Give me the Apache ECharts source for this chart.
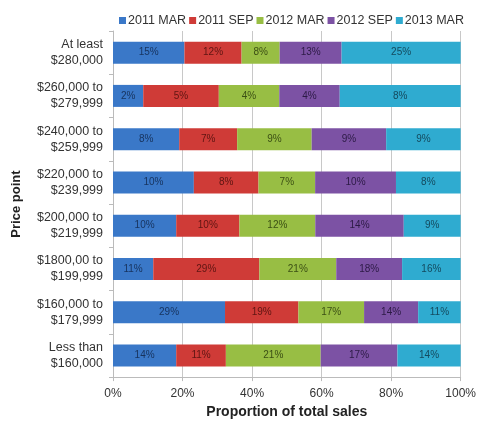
<!DOCTYPE html>
<html><head><meta charset="utf-8">
<script src="https://cdn.jsdelivr.net/npm/echarts@6/dist/echarts.min.js"></script>
<style>html,body{margin:0;padding:0;background:#fff}#c{width:479px;height:424px}</style>
</head><body><div id="c"></div>
<script>
var categories = ["At least\n$280,000","$260,000 to\n$279,999","$240,000 to\n$259,999","$220,000 to\n$239,999","$200,000 to\n$219,999","$1800,00 to\n$199,999","$160,000 to\n$179,999","Less than\n$160,000"];
var seriesNames = ["2011 MAR","2011 SEP","2012 MAR","2012 SEP","2013 MAR"];
var mar2011 = [15,2,8,10,10,11,29,14];
var sep2011 = [12,5,7,8,10,29,19,11];
var mar2012 = [8,4,9,7,12,21,17,21];
var sep2012 = [13,4,9,10,14,18,14,17];
var mar2013 = [25,8,9,8,9,16,11,14];
var xTicks = ["0%","20%","40%","60%","80%","100%"];

var raw = [mar2011, sep2011, mar2012, sep2012, mar2013];
var colors = ["#3a78c8","#cf3b37","#98be44","#7c52a4","#2fabd0"];
var labelColors = ["#17335e","#5e1512","#3b4f14","#2c1a45","#144a5e"];
var totals = categories.map(function(_, i){ return raw.reduce(function(s, a){ return s + a[i]; }, 0); });
var font = "Liberation Sans, Arial, sans-serif";
var series = raw.map(function(arr, k){
  return {
    name: seriesNames[k], type: 'bar', stack: 'all', barWidth: 22,
    itemStyle: {color: colors[k]},
    label: {show: true, position: 'inside', fontFamily: font, fontSize: 10, color: labelColors[k],
      formatter: function(p){ return arr[p.dataIndex] + '%'; }},
    data: arr.map(function(v, i){ return v / totals[i] * 100; })
  };
});
var chart = echarts.init(document.getElementById('c'));
chart.setOption({
  animation: false,
  textStyle: {fontFamily: font},
  legend: {top: 9, left: 114, itemWidth: 7, itemHeight: 7, itemGap: 3, icon: 'rect',
    textStyle: {fontFamily: font, fontSize: 12.5, color: '#333', padding: [0,0,0,-3]}, data: seriesNames},
  grid: {left: 113, right: 16, top: 31, bottom: 39},
  xAxis: {type: 'value', min: 0, max: 100, interval: 20,
    axisLabel: {fontFamily: font, fontSize: 12, color: '#333', margin: 11,
      formatter: function(v){ return xTicks[Math.round(v/20)]; }},
    axisLine: {show: true, lineStyle: {color: '#bbb'}},
    axisTick: {show: true, length: 4, lineStyle: {color: '#bbb'}},
    splitLine: {show: true, lineStyle: {color: '#c8c8c8'}},
    name: 'Proportion of total sales', nameLocation: 'middle', nameGap: 27,
    nameTextStyle: {fontFamily: font, fontSize: 14, fontWeight: 'bold', color: '#222'}},
  yAxis: {type: 'category', data: categories, inverse: true,
    axisLabel: {fontFamily: font, fontSize: 12.5, color: '#333', lineHeight: 16, margin: 10, align: 'right'},
    axisLine: {show: true, lineStyle: {color: '#bbb'}},
    axisTick: {show: true, length: 4, lineStyle: {color: '#bbb'}},
    name: 'Price point', nameLocation: 'middle', nameGap: 90, nameRotate: 90,
    nameTextStyle: {fontFamily: font, fontSize: 13, fontWeight: 'bold', color: '#222'}},
  series: series
});
</script></body></html>
